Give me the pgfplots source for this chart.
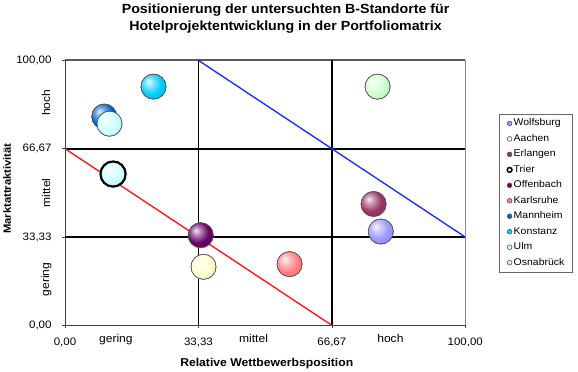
\documentclass[border=0pt]{standalone}
\usepackage{fontspec}
\setmainfont{Liberation Sans}[FakeStretch=1.07]
\usepackage{pgfplots}
\pgfplotsset{compat=1.18}
\definecolor{cWolf}{HTML}{9999FF}
\definecolor{cAach}{HTML}{FFFFCC}
\definecolor{cErl}{HTML}{993366}
\definecolor{cTrier}{HTML}{CCFFFF}
\definecolor{cOff}{HTML}{660066}
\definecolor{cKarl}{HTML}{FF8080}
\definecolor{cMann}{HTML}{0066CC}
\definecolor{cKon}{HTML}{00CCFF}
\definecolor{cUlm}{HTML}{CCFFFF}
\definecolor{cOsn}{HTML}{CCFFCC}
\definecolor{lineRed}{HTML}{FF1A1A}
\definecolor{lineBlue}{HTML}{1A33FF}
\colorlet{ballc}{white}
\pgfdeclareradialshading[ballc]{myballshade}{\pgfqpoint{-10bp}{10bp}}{%
  color(0bp)=(ballc!10!white); color(10bp)=(ballc!55!white); color(22bp)=(ballc);
  color(40bp)=(ballc!88!black); color(62bp)=(ballc!62!black)}
\def\ballbw{0.6pt}
\def\ballbc{black!60}
\tikzset{ballc/.code={\colorlet{ballc}{#1}},
  ballborder/.code 2 args={\def\ballbw{#1}\def\ballbc{#2}}}
\pgfdeclareplotmark{myball}{%
  \shade[shading=myballshade] (0pt,0pt) circle[radius=\pgfplotmarksize];
  \draw[draw=\ballbc, line width=\ballbw] (0pt,0pt) circle[radius=\pgfplotmarksize];
}
\pgfplotsset{
  city/.style n args={3}{only marks, mark=myball, mark size=12.6pt, ballc=#1,
     legend image code/.code={\draw[fill=#1, draw=#2, line width=#3] (0pt,0pt) circle[radius=2.4pt];}},
}
\newcommand{\catfont}{\fontsize{11.3}{13}\selectfont}
\begin{document}
\begin{tikzpicture}
\begin{axis}[
  scale only axis, width=401pt, height=265.5pt,
  xmin=0, xmax=100, ymin=0, ymax=100,
  axis x line*=bottom, axis y line*=left,
  axis line style={draw=black!75, line width=0.8pt},
  xtick={0,33.33,66.67,100}, ytick={0,33.33,66.67,100},
  xticklabels={{0,00},{33,33},{66,67},{100,00}},
  yticklabels={{0,00},{33,33},{66,67},{100,00}},
  minor x tick num=4, minor y tick num=4,
  tick align=center, major tick length=6pt, minor tick length=3pt,
  tick style={black!75, line width=0.6pt},
  ticklabel style={font=\fontsize{10.8}{13}\selectfont},
  xticklabel style={yshift=-6pt},
  yticklabel style={xshift=-7pt},
  clip=false,
  legend style={at={(1,0.798)}, anchor=north west, xshift=34pt,
    draw=black!60, line width=0.6pt, font=\fontsize{9.8}{11}\selectfont,
    inner xsep=7pt, inner ysep=1.5pt,
    nodes={inner xsep=1pt, inner ysep=3pt, text height=7.3pt, text depth=2.2pt}},
  legend cell align=left,
]
% bounding box of the whole picture
\path (rel axis cs:0,0) ++(-64pt,-46pt) rectangle ++(578pt,372pt);
% frame top and right
\draw[draw=black!65, line width=1.8pt] (rel axis cs:0,1) -- (rel axis cs:1,1);
\draw[draw=black!45, line width=1.1pt] (rel axis cs:1,1) -- (rel axis cs:1,0);
% grid lines
\addplot[black, line width=1.7pt, forget plot] coordinates {(33.33,0) (33.33,100)};
\addplot[black, line width=1.7pt, forget plot] coordinates {(66.67,0) (66.67,100)};
\addplot[black, line width=1.7pt, forget plot] coordinates {(0,33.33) (100,33.33)};
\addplot[black, line width=1.7pt, forget plot] coordinates {(0,66.67) (100,66.67)};
% cities
\addplot[city={cWolf}{black!65}{0.6pt}] coordinates {(78.9,35.4)};
\addlegendentry{Wolfsburg}
\addplot[city={cAach}{black!65}{0.6pt}] coordinates {(34.6,22.1)};
\addlegendentry{Aachen}
\addplot[city={cErl}{black!65}{0.6pt}] coordinates {(77.1,45.8)};
\addlegendentry{Erlangen}
\addplot[city={cTrier}{black}{1.5pt}, ballborder={2.2pt}{black}] coordinates {(12.0,57.1)};
\addlegendentry{Trier}
\addplot[city={cOff}{black!65}{0.6pt}] coordinates {(33.9,34.0)};
\addlegendentry{Offenbach}
\addplot[city={cKarl}{black!65}{0.6pt}] coordinates {(56.1,23.1)};
\addlegendentry{Karlsruhe}
\addplot[city={cMann}{black!65}{0.6pt}] coordinates {(9.8,78.8)};
\addlegendentry{Mannheim}
\addplot[city={cKon}{black!65}{0.6pt}] coordinates {(22.1,90.1)};
\addlegendentry{Konstanz}
\addplot[city={cUlm}{black!65}{0.6pt}] coordinates {(11.1,76.1)};
\addlegendentry{Ulm}
\addplot[city={cOsn}{black!65}{0.6pt}] coordinates {(78.1,90.1)};
\addlegendentry{Osnabrück}
% diagonal lines
\addplot[lineRed, line width=1.4pt, forget plot] coordinates {(0,66.67) (66.67,0)};
\addplot[lineBlue, line width=1.4pt, forget plot] coordinates {(33.33,100) (100,33.33)};
% category labels
\path (axis cs:12.7,0) ++(0,-17pt) node[anchor=base, font=\catfont] {gering};
\path (axis cs:47.1,0) ++(0,-17pt) node[anchor=base, font=\catfont] {mittel};
\path (axis cs:81.3,0) ++(0,-17pt) node[anchor=base, font=\catfont] {hoch};
\path (axis cs:0,84) ++(-19pt,0) node[rotate=90, font=\catfont] {hoch};
\path (axis cs:0,50) ++(-19pt,0) node[rotate=90, font=\catfont] {mittel};
\path (axis cs:0,17.3) ++(-19pt,0) node[rotate=90, font=\catfont] {gering};
% axis labels
\path (rel axis cs:0.504,0) ++(0,-41pt) node[anchor=base, font=\fontsize{11.4}{13}\selectfont\bfseries] {Relative Wettbewerbsposition};
\path (rel axis cs:0,0.516) ++(-58pt,0) node[rotate=90, font=\fontsize{10.5}{12}\selectfont\bfseries] {Marktattraktivität};
% title
\path (rel axis cs:0.551,1) ++(0,46.5pt) node[anchor=base, font=\fontsize{13.3}{16}\selectfont\bfseries] {Positionierung der untersuchten B-Standorte für};
\path (rel axis cs:0.551,1) ++(0,29.5pt) node[anchor=base, font=\fontsize{13.3}{16}\selectfont\bfseries] {Hotelprojektentwicklung in der Portfoliomatrix};
\end{axis}
\end{tikzpicture}
\end{document}
